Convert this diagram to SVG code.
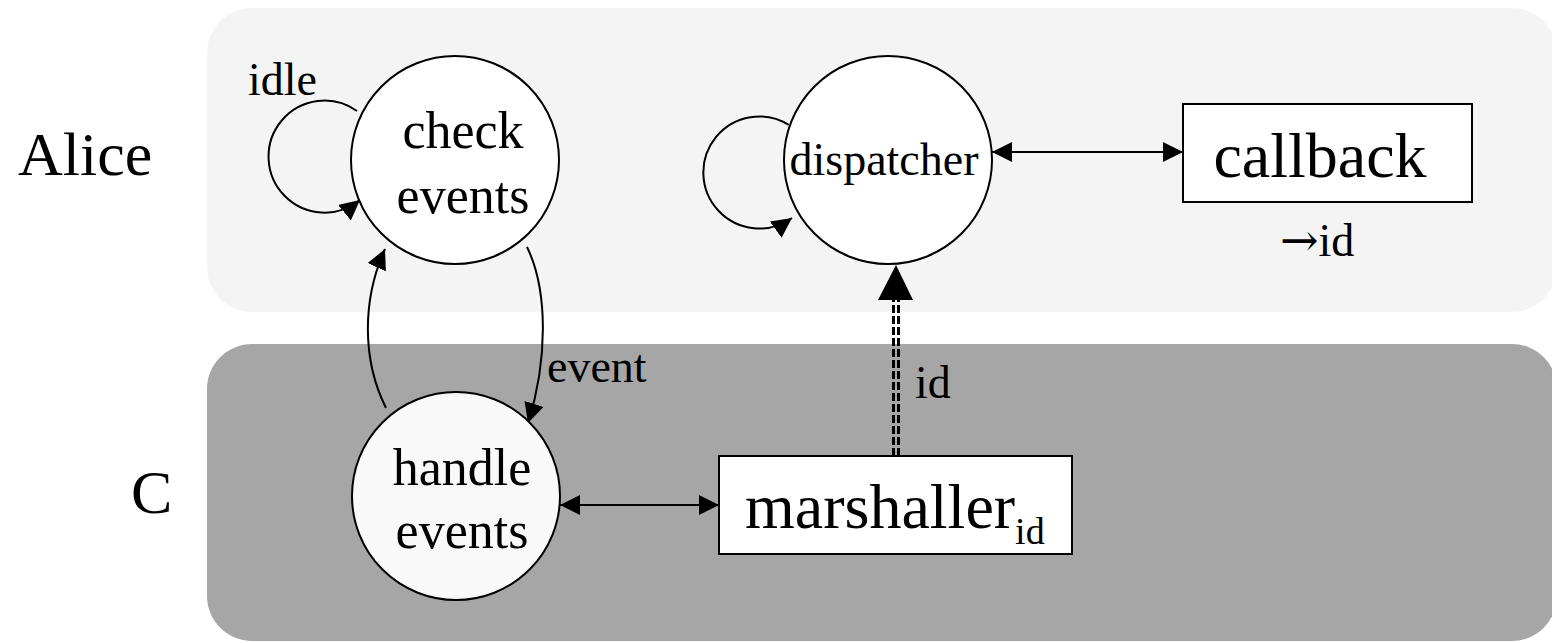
<svg xmlns="http://www.w3.org/2000/svg" width="1552" height="643" viewBox="0 0 1552 643">
<style>
text{font-family:"Liberation Serif","Times New Roman",serif;fill:#000}
.node{stroke:#000;stroke-width:2}
.edge{fill:none;stroke:#000;stroke-width:2}
.dash{fill:none;stroke:#000;stroke-width:3;stroke-dasharray:8 3}
.big{font-size:52px}
.lbl{font-size:46px}
.lane{font-size:62px}
</style>
<defs>
<marker id="ah" viewBox="0 0 20 20" refX="20" refY="10" markerWidth="20" markerHeight="20" markerUnits="userSpaceOnUse" orient="auto-start-reverse">
<path d="M0,0 L20,10 L0,20 z" fill="#000"/>
</marker>
</defs>
<g id="lane-alice">
<rect x="207" y="8" width="1350" height="304" rx="45" ry="45" fill="#f4f4f4"/>
<text class="lane" x="18" y="175">Alice</text>
</g>
<g id="lane-c">
<rect x="207" y="344" width="1350" height="297" rx="45" ry="45" fill="#a6a6a6"/>
<text class="lane" x="131" y="513">C</text>
</g>
<g id="connectors">
<path class="edge" d="M357,111 A56,56 0 1 0 360,200" marker-end="url(#ah)"/>
<text class="lbl" x="248" y="95">idle</text>
<path class="edge" d="M789,125 A56,56 0 1 0 792,218" marker-end="url(#ah)"/>
<path class="edge" d="M527,247 C548,290 548,360 528,423" marker-end="url(#ah)"/>
<text class="lbl" x="547" y="382">event</text>
<path class="edge" d="M386,408 C362,360 362,300 385,249" marker-end="url(#ah)"/>
<line class="edge" x1="992" y1="152" x2="1183" y2="152" marker-start="url(#ah)" marker-end="url(#ah)"/>
<line class="edge" x1="560" y1="505" x2="719" y2="505" marker-start="url(#ah)" marker-end="url(#ah)"/>
<line class="dash" x1="893.5" y1="456" x2="893.5" y2="300"/>
<line class="dash" x1="898.5" y1="456" x2="898.5" y2="300"/>
<polygon points="896,265 878,300 913,300" fill="#000"/>
<text class="lbl" x="915" y="398">id</text>
</g>
<g id="check-events">
<circle class="node" cx="455" cy="160" r="104" fill="#fff"/>
<text class="big" x="463" y="148" text-anchor="middle">check</text>
<text class="big" x="463" y="213" text-anchor="middle">events</text>
</g>
<g id="dispatcher">
<circle class="node" cx="888" cy="160" r="104" fill="#fff"/>
<text x="884" y="175" font-size="46" text-anchor="middle">dispatcher</text>
</g>
<g id="callback">
<rect class="node" x="1183" y="104" width="289" height="98" fill="#fff"/>
<text x="1320" y="177" font-size="64" text-anchor="middle">callback</text>
<text class="lbl" x="1280" y="256"><tspan font-family="'DejaVu Serif',serif">→</tspan>id</text>
</g>
<g id="handle-events">
<circle class="node" cx="456" cy="496" r="104" fill="#f9f9f9"/>
<text class="big" x="462" y="485" text-anchor="middle">handle</text>
<text class="big" x="462" y="548" text-anchor="middle">events</text>
</g>
<g id="marshaller">
<rect class="node" x="719" y="456" width="353" height="98" fill="#fff"/>
<text x="745" y="528" font-size="64">marshaller<tspan font-size="38" dy="16">id</tspan></text>
</g>
</svg>
